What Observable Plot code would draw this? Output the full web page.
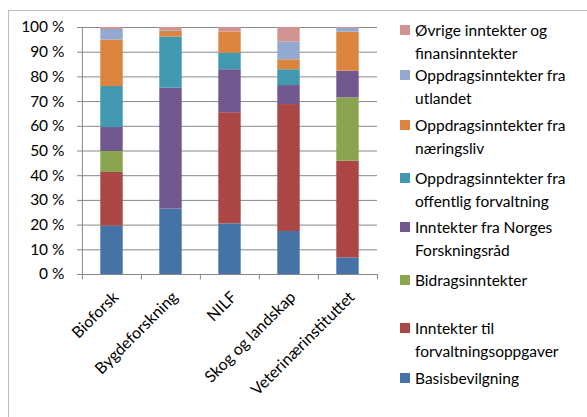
<!DOCTYPE html>
<html>
<head>
<meta charset="utf-8">
<script src="https://cdn.jsdelivr.net/npm/d3@7"></script>
<script src="https://cdn.jsdelivr.net/npm/@observablehq/plot@0.6"></script>
<style>
  html, body { margin: 0; padding: 0; background: #fff; }
  #wrap { position: relative; width: 587px; height: 417px; overflow: hidden; font-family: Lato, "Open Sans", sans-serif; }
  #border { position: absolute; left: 8px; top: 10px; right: -5px; bottom: -5px; border: 1.5px solid #bdbdbd; }
  #legend { position: absolute; left: 0; top: 0; width: 587px; height: 417px; pointer-events: none; }
  .item { position: absolute; left: 400px; font-size: 15.5px; line-height: 23px; color: #000; white-space: nowrap; }
  .sw { position: absolute; left: 0; top: 6px; width: 10px; height: 10px; }
  .tx { position: absolute; left: 15px; top: 0; }
</style>
</head>
<body>
<div id="wrap"><div id="border"></div><div id="chart"></div><div id="legend"></div></div>
<script>
const institutes = ["Bioforsk", "Bygdeforskning", "NILF", "Skog og landskap", "Veterinærinstituttet"];
const series = [
  "Basisbevilgning",
  "Inntekter til forvaltningsoppgaver",
  "Bidragsinntekter",
  "Inntekter fra Norges Forskningsråd",
  "Oppdragsinntekter fra offentlig forvaltning",
  "Oppdragsinntekter fra næringsliv",
  "Oppdragsinntekter fra utlandet",
  "Øvrige inntekter og finansinntekter"
];
const colors = ["#4572A7", "#AA4643", "#89A54E", "#71588F", "#4198AF", "#DB843D", "#93A9CF", "#D19392"];
// shares in percent, per series, in institute order
const basis      = [19.6, 26.5, 20.5, 17.4, 6.7];
const forvalt    = [21.7, 0.0, 45.0, 51.4, 39.2];
const bidrag     = [8.5, 0.0, 0.0, 0.0, 25.6];
const nfr        = [9.7, 48.9, 17.4, 7.7, 10.8];
const offentlig  = [16.6, 20.7, 6.7, 6.4, 0.0];
const naering    = [18.8, 2.3, 8.6, 4.0, 15.8];
const utland     = [4.3, 0.3, 0.0, 7.2, 1.5];
const ovrige     = [0.8, 1.3, 1.8, 5.9, 0.4];
const values = [basis, forvalt, bidrag, nfr, offentlig, naering, utland, ovrige];
const yTicks = [0, 10, 20, 30, 40, 50, 60, 70, 80, 90, 100];
// legend: top-down order with line breaks
const legendLines = [
  ["Øvrige inntekter og", "finansinntekter"],
  ["Oppdragsinntekter fra", "utlandet"],
  ["Oppdragsinntekter fra", "næringsliv"],
  ["Oppdragsinntekter fra", "offentlig forvaltning"],
  ["Inntekter fra Norges", "Forskningsråd"],
  ["Bidragsinntekter"],
  ["Inntekter til", "forvaltningsoppgaver"],
  ["Basisbevilgning"]
];
const legendTops = [19, 64, 114, 167, 216, 269, 317, 367];

const data = [];
series.forEach((s, i) => institutes.forEach((inst, j) => data.push({inst, series: s, order: i, value: values[i][j]})));

const step = 296 / institutes.length;
const grid = "#878787";

const plot = Plot.plot({
  width: 587, height: 417,
  marginLeft: 81, marginRight: 210, marginTop: 27, marginBottom: 143,
  style: {fontFamily: "Lato, 'Open Sans', sans-serif", fontSize: "15.5px", color: "#000", background: "transparent"},
  x: {domain: institutes, padding: 0, axis: null},
  y: {domain: [0, 100], axis: null},
  color: {domain: series, range: colors},
  marks: [
    Plot.ruleY(yTicks.slice(1), {stroke: grid, strokeWidth: 1}),
    Plot.barY(data, Plot.stackY({x: "inst", y: "value", fill: "series", order: "order", insetLeft: 18.3, insetRight: 18.3})),
    Plot.ruleY([0], {stroke: grid}),
    Plot.ruleX([institutes[0]], {dx: -step / 2, stroke: grid}),
    Plot.ruleX(institutes, {dx: -step / 2, y1: 0, y2: -2.2, stroke: grid}),
    Plot.ruleX([institutes[institutes.length - 1]], {dx: step / 2, y1: 0, y2: -2.2, stroke: grid}),
    Plot.axisY({ticks: yTicks, tickFormat: d => `${d} %`, tickSize: 4, tickPadding: 13, stroke: grid, fontSize: 15.5, fill: "#000", label: null}),
    Plot.text(institutes, {x: d => d, y: 0, text: d => d, rotate: -45, textAnchor: "end", dx: 4, dy: 20, fill: "#000", fontSize: 16})
  ]
});
document.getElementById("chart").appendChild(plot);

const leg = document.getElementById("legend");
legendLines.forEach((lines, k) => {
  const idx = series.length - 1 - k;
  const div = document.createElement("div");
  div.className = "item";
  div.style.top = legendTops[k] + "px";
  div.innerHTML = `<div class="sw" style="background:${colors[idx]}"></div><div class="tx">${lines.join("<br>")}</div>`;
  leg.appendChild(div);
});
</script>
</body>
</html>
